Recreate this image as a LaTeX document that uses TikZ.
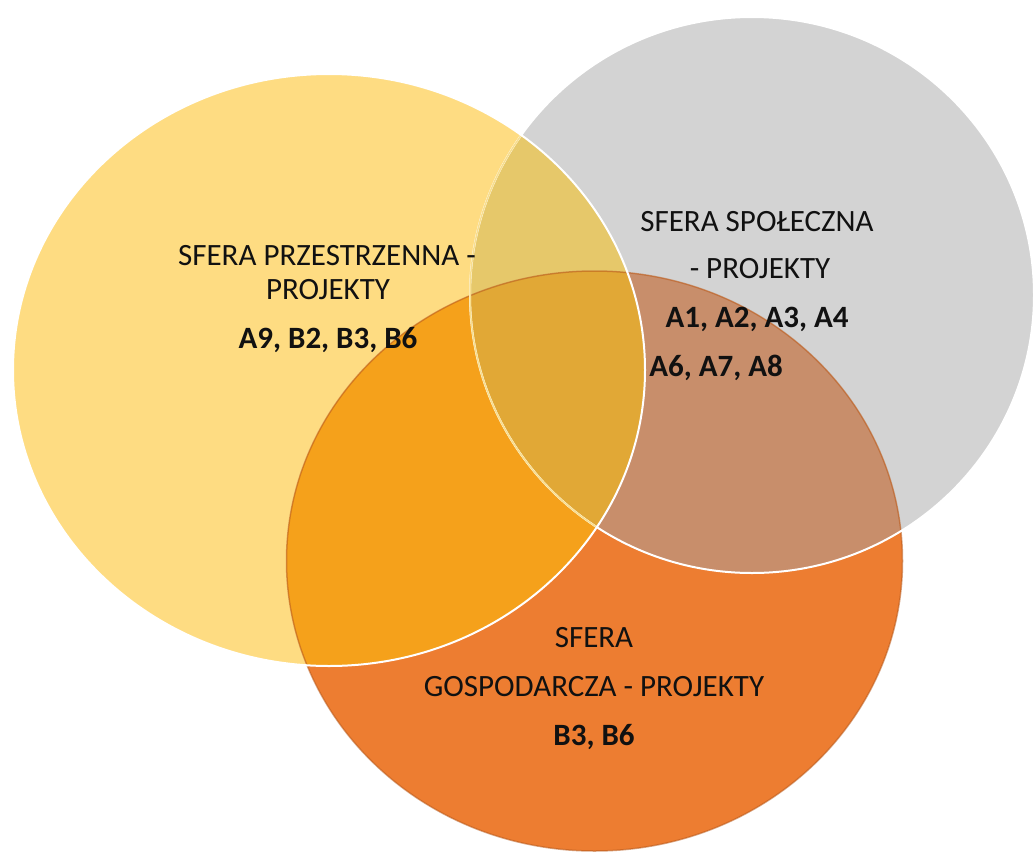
\documentclass[tikz,border=0pt]{standalone}
\usepackage{fontspec}
\setmainfont{Carlito}
\definecolor{cY}{HTML}{FEDC82}
\definecolor{cG}{HTML}{D3D3D3}
\definecolor{cO}{HTML}{ED7D31}
\definecolor{cYG}{HTML}{E6C86A}
\definecolor{cYO}{HTML}{F5A11B}
\definecolor{cGO}{HTML}{C88E6B}
\definecolor{cYGO}{HTML}{E1A836}
\definecolor{cOline}{HTML}{B85A1C}
\definecolor{cYpale}{HTML}{F8DE8E}
\definecolor{txt}{HTML}{111111}
\def\pY{(329,370) ellipse [x radius=316pt, y radius=296pt]}
\def\pG{(752,295) ellipse [x radius=282pt, y radius=278pt]}
\def\pO{(594.5,561) ellipse [x radius=308pt, y radius=290pt]}
\tikzset{
  lbl/.style={anchor=base, inner sep=0pt, text=txt, font=\fontsize{31}{36}\selectfont},
  lblb/.style={lbl, font=\fontsize{31}{36}\selectfont\bfseries},
  rim/.style={white, line width=2pt},
  orim/.style={cOline, line width=1.5pt, opacity=0.55}
}
\begin{document}
\begin{tikzpicture}[x=1pt,y=-1pt]
\useasboundingbox (0,0) rectangle (1034,854);
\clip (0,0) rectangle (1034,854);
% base fills
\fill[cY] \pY;
\fill[cG] \pG;
\fill[cO] \pO;
% overlaps
\begin{scope} \clip \pY; \fill[cYG] \pG; \end{scope}
\begin{scope} \clip \pY; \fill[cYO] \pO; \end{scope}
\begin{scope} \clip \pG; \fill[cGO] \pO; \end{scope}
\begin{scope} \clip \pY; \clip \pG; \fill[cYGO] \pO; \end{scope}
% outlines
\draw[orim] \pO;
\draw[rim] \pG;
\begin{scope} \clip \pY; \draw[cYpale, line width=1.5pt] \pG; \end{scope}
\draw[rim] \pY;
% labels: spatial sphere
\node[lbl]  (y1) at (327,265) {SFERA PRZESTRZENNA -};
\node[lbl]  (y2) at (328,299) {PROJEKTY};
\node[lblb] (y3) at (328,348) {A9, B2, B3, B6};
% social sphere
\node[lbl]  (g1) at (757,231) {SFERA SPOŁECZNA};
\node[lbl]  (g2) at (760,278.5) {- PROJEKTY};
\node[lblb] (g3) at (757,327.5) {A1, A2, A3, A4};
\node[lblb] (g4) at (716,376) {A6, A7, A8};
% economic sphere
\node[lbl]  (o1) at (594,647) {SFERA};
\node[lbl]  (o2) at (594,696) {GOSPODARCZA - PROJEKTY};
\node[lblb] (o3) at (594,745) {B3, B6};
\end{tikzpicture}
\end{document}
